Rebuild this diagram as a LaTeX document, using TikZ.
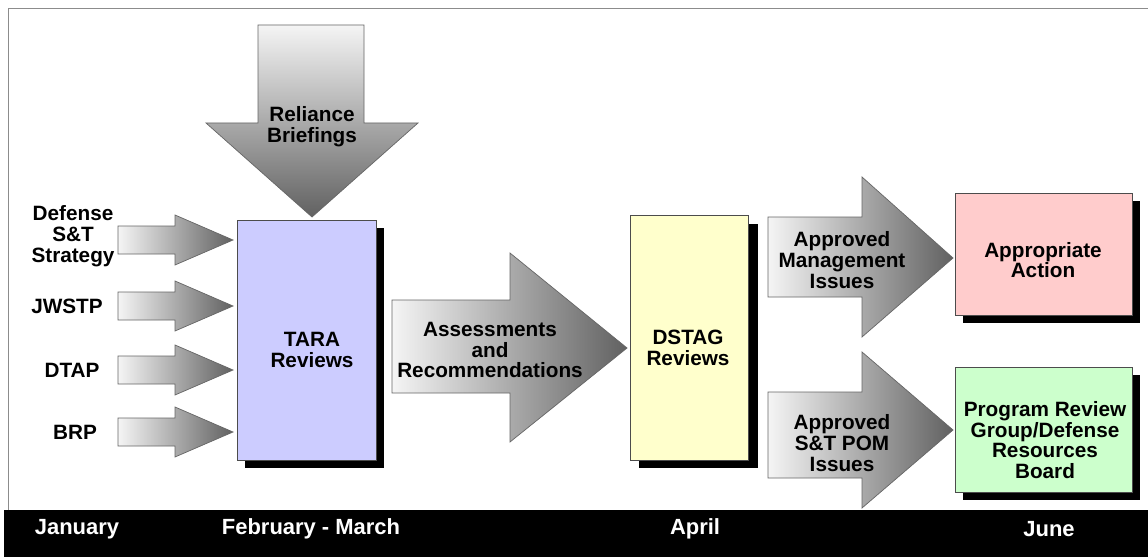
\documentclass[tikz,border=0pt]{standalone}
\usepackage{fontspec}
\setmainfont{Liberation Sans}

\definecolor{taraclr}{RGB}{204,204,255}
\definecolor{dstagclr}{RGB}{255,255,204}
\definecolor{actclr}{RGB}{255,204,204}
\definecolor{prgclr}{RGB}{204,255,204}

\tikzset{
  lbl/.style={font=\bfseries\fontsize{11.8}{11.8}\selectfont, align=center, inner sep=0pt},
  month/.style={font=\bfseries\fontsize{12.5}{13}\selectfont, text=white, inner sep=0pt},
  stagebox/.style={draw=black!70, line width=0.4pt},
  harrow/.style={draw=black!60, line width=0.4pt, left color=black!4, right color=black!62},
  varrow/.style={draw=black!60, line width=0.4pt, top color=black!4, bottom color=black!62}
}

\begin{document}
\begin{tikzpicture}[x=0.02cm,y=-0.02cm]
\useasboundingbox (0,0) rectangle (1148,557);
\fill [white] (0,0) rectangle (1148,557);
\draw [black!45] (8,510) -- (8,8) -- (1148,8);
% time bar
\fill [black] (4,510) rectangle (1148,557);
\node [month] (jan) at (77,529) {January};
\node [month] (febmar) at (311,529) {February - March};
\node [month] (apr) at (695,529) {April};
\node [month] (jun) at (1049,529) {June};
% reliance briefings
\shade [varrow] (258,25) -- (364,25) -- (364,123) -- (418,123) -- (312,217) -- (206,123) -- (258,123) -- cycle;
\node [lbl] (reliance) at (312,127) {Reliance\\Briefings};
% inputs
\foreach \y in {240,306,370,432}
  \shade [harrow] (118,\y-14) -- (175,\y-14) -- (175,\y-25) -- (233,\y) -- (175,\y+25) -- (175,\y+14) -- (118,\y+14) -- cycle;
\node [lbl] (strategy) at (73,236) {Defense\\S\&T\\Strategy};
\node [lbl] (jwstp) at (67,306) {JWSTP};
\node [lbl] (dtap) at (72,370) {DTAP};
\node [lbl] (brp) at (75,432) {BRP};
% TARA
\fill [black] (245,228) rectangle (384,468);
\draw [stagebox, fill=taraclr] (237,220) rectangle (376,460);
\node [lbl] (tara) at (312,350) {TARA\\Reviews};
% assessments
\shade [harrow] (392,300) -- (510,300) -- (510,253) -- (627,348) -- (510,442) -- (510,393) -- (392,393) -- cycle;
\node [lbl] (assess) at (490,350) {Assessments\\and\\Recommendations};
% DSTAG
\fill [black] (639,224) rectangle (758,468);
\draw [stagebox, fill=dstagclr] (630,215) rectangle (748,460);
\node [lbl] (dstag) at (688,348) {DSTAG\\Reviews};
% approved issues
\shade [harrow] (768,217) -- (862,217) -- (862,177) -- (953,258) -- (862,337) -- (862,297) -- (768,297) -- cycle;
\node [lbl] (mgmt) at (842,260) {Approved\\Management\\Issues};
\shade [harrow] (768,392) -- (862,392) -- (862,352) -- (953,430) -- (862,508) -- (862,478) -- (768,478) -- cycle;
\node [lbl] (pom) at (842,443) {Approved\\S\&T POM\\Issues};
% outcomes
\fill [black] (963,201) rectangle (1140,323);
\draw [stagebox, fill=actclr] (955,193) rectangle (1132,315);
\node [lbl] (action) at (1043,260) {Appropriate\\Action};
\fill [black] (963,375) rectangle (1140,500);
\draw [stagebox, fill=prgclr] (955,367) rectangle (1132,492);
\node [lbl] (prgb) at (1045,440) {Program Review\\Group/Defense\\Resources\\Board};
\end{tikzpicture}
\end{document}
